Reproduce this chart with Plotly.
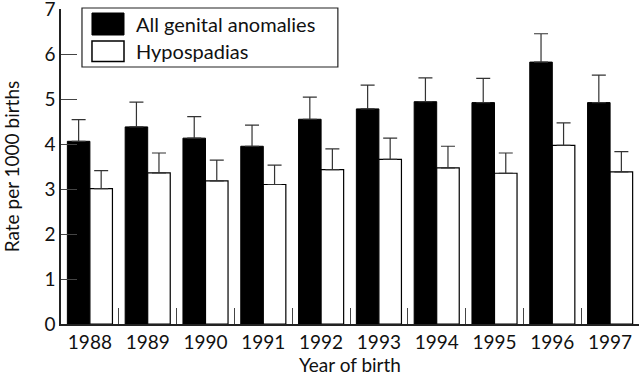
import plotly.graph_objects as go

years = ["1988", "1989", "1990", "1991", "1992", "1993", "1994", "1995", "1996", "1997"]
all_genital = [4.06, 4.38, 4.13, 3.95, 4.55, 4.78, 4.94, 4.92, 5.82, 4.92]
all_genital_err = [0.48, 0.55, 0.48, 0.47, 0.49, 0.53, 0.53, 0.54, 0.63, 0.61]
hypospadias = [3.01, 3.36, 3.18, 3.10, 3.43, 3.66, 3.47, 3.35, 3.97, 3.38]
hypospadias_err = [0.40, 0.44, 0.46, 0.43, 0.46, 0.47, 0.48, 0.45, 0.50, 0.45]
series_names = ["All genital anomalies", "Hypospadias"]
y_ticks = [0, 1, 2, 3, 4, 5, 6, 7]

FONT = "Lato, 'Open Sans', sans-serif"

T, B = 9, 52
H = 376 - T - B


def py(p):
    """pixel y (from top) -> paper y"""
    return (376 - B - p) / H


fig = go.Figure()
fig.add_trace(go.Bar(
    x=years, y=all_genital, name=series_names[0],
    marker=dict(color="black", line=dict(color="black", width=1)),
    error_y=dict(type="data", array=all_genital_err, arrayminus=[0] * len(years),
                 symmetric=False, color="#333333", thickness=1.2, width=7),
    showlegend=False,
))
fig.add_trace(go.Bar(
    x=years, y=hypospadias, name=series_names[1],
    marker=dict(color="white", line=dict(color="black", width=1.2)),
    error_y=dict(type="data", array=hypospadias_err, arrayminus=[0] * len(years),
                 symmetric=False, color="#333333", thickness=1.2, width=7),
    showlegend=False,
))

# Manual legend (large swatches like the reference)
fig.add_shape(type="rect", xref="paper", yref="paper", x0=0.0363, x1=0.479, y0=py(67), y1=py(8),
              line=dict(color="#222222", width=1.2), fillcolor="white", layer="above")
fig.add_shape(type="rect", xref="paper", yref="paper", x0=0.0536, x1=0.109, y0=py(35), y1=py(13),
              line=dict(color="black", width=1), fillcolor="black", layer="above")
fig.add_shape(type="rect", xref="paper", yref="paper", x0=0.0536, x1=0.109, y0=py(61.5), y1=py(41),
              line=dict(color="black", width=1.5), fillcolor="white", layer="above")
fig.add_annotation(xref="paper", yref="paper", x=0.126, y=py(24), text=series_names[0],
                   showarrow=False, xanchor="left", yanchor="middle",
                   font=dict(family=FONT, size=20, color="#111111"))
fig.add_annotation(xref="paper", yref="paper", x=0.126, y=py(51), text=series_names[1],
                   showarrow=False, xanchor="left", yanchor="middle",
                   font=dict(family=FONT, size=20, color="#111111"))

fig.update_layout(
    width=640, height=376,
    margin=dict(l=61, r=1, t=T, b=B),
    paper_bgcolor="white", plot_bgcolor="white",
    barmode="group", bargap=0.22, bargroupgap=0,
    font=dict(family=FONT, size=19, color="#111111"),
    xaxis=dict(
        title=dict(text="Year of birth", font=dict(size=19), standoff=4),
        automargin=False,
        showline=True, linecolor="#222222", linewidth=1.5,
        ticks="inside", ticklen=16, tickcolor="#444444", tickwidth=1,
        tickson="boundaries", showgrid=False, zeroline=False,
        tickfont=dict(size=19),
    ),
    yaxis=dict(
        title=dict(text="Rate per 1000 births", font=dict(size=19), standoff=20),
        automargin=False, ticklabeloverflow="allow",
        range=[0, 7], tickvals=y_ticks,
        showline=True, linecolor="#222222", linewidth=1.5,
        ticks="inside", ticklen=16, tickcolor="#444444", tickwidth=1,
        showgrid=False, zeroline=False, tickfont=dict(size=19),
    ),
)

fig.write_html("out.html", config={"displayModeBar": False},
               post_script="document.body.style.margin='0';")
